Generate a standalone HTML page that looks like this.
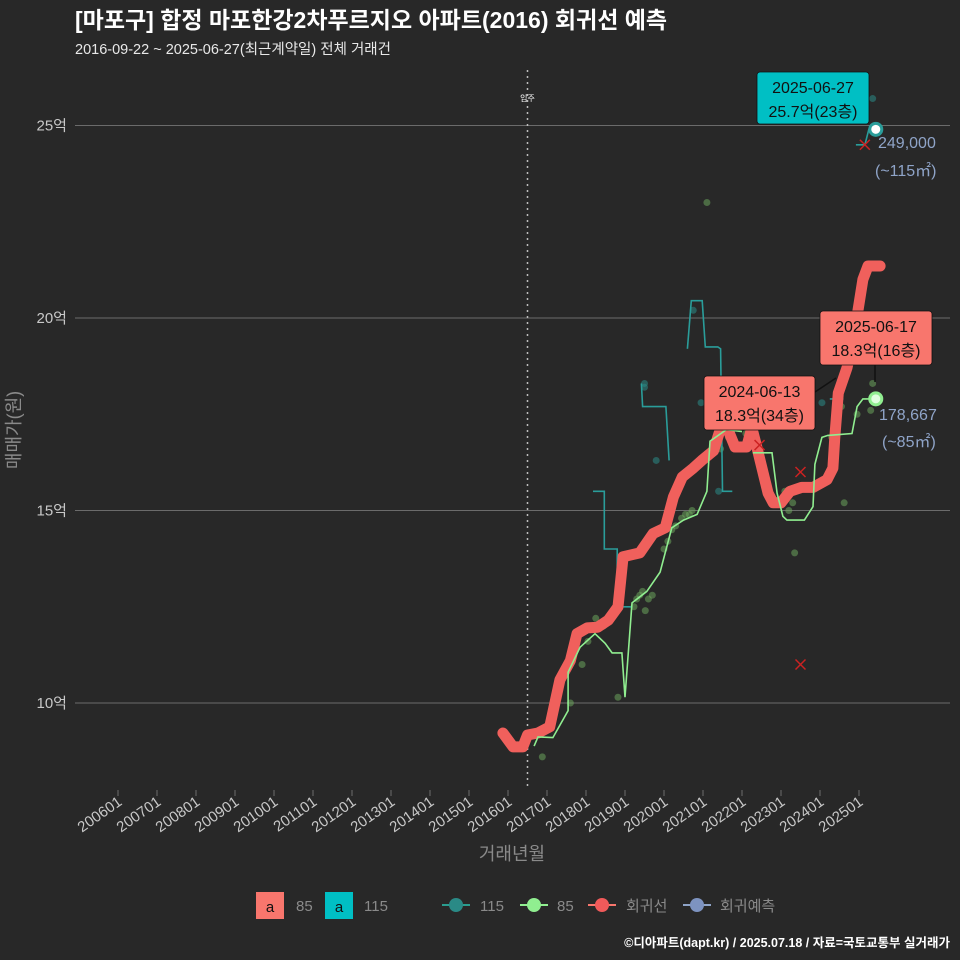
<!DOCTYPE html>
<html><head><meta charset="utf-8">
<style>
html,body{margin:0;padding:0;background:#282828;}
svg{display:block;font-family:"Liberation Sans","Noto Sans CJK KR",sans-serif;}
</style></head>
<body>
<svg id="chart" width="960" height="960" viewBox="0 0 960 960" xmlns="http://www.w3.org/2000/svg">
<rect width="960" height="960" fill="#282828"/>
<text x="75" y="28" fill="#ffffff" font-size="23" font-weight="bold">[마포구] 합정 마포한강2차푸르지오 아파트(2016) 회귀선 예측</text>
<text x="75" y="54" fill="#e8e8e8" font-size="14.5">2016-09-22 ~ 2025-06-27(최근계약일) 전체 거래건</text>
<g id="grid"></g>
<g id="marks"></g>
<g id="labels"></g>
<text transform="translate(20,430) rotate(-90)" text-anchor="middle" fill="#8a8a8a" font-size="18">매매가(원)</text>
<text x="512" y="860" text-anchor="middle" fill="#8a8a8a" font-size="18">거래년월</text>
<g>
<rect x="256" y="892" width="28" height="27" fill="#f8766d"/>
<text x="270" y="912" text-anchor="middle" fill="#111" font-size="15">a</text>
<text x="296" y="911" fill="#8a8a8a" font-size="15">85</text>
<rect x="325" y="892" width="28" height="27" fill="#00bfc4"/>
<text x="339" y="912" text-anchor="middle" fill="#111" font-size="15">a</text>
<text x="364" y="911" fill="#8a8a8a" font-size="15">115</text>
<line x1="442" y1="905" x2="470" y2="905" stroke="#2a9d8f" stroke-width="2"/>
<circle cx="456" cy="905" r="7" fill="#2a8a86"/>
<text x="480" y="911" fill="#8a8a8a" font-size="15">115</text>
<line x1="520" y1="905" x2="548" y2="905" stroke="#90ee90" stroke-width="2"/>
<circle cx="534" cy="905" r="7" fill="#90ee90"/>
<text x="557" y="911" fill="#8a8a8a" font-size="15">85</text>
<line x1="588" y1="905" x2="616" y2="905" stroke="#f8766d" stroke-width="2"/>
<circle cx="602" cy="905" r="7" fill="#f05a5a"/>
<text x="626" y="911" fill="#8a8a8a" font-size="15">회귀선</text>
<line x1="683" y1="905" x2="711" y2="905" stroke="#8fa4c8" stroke-width="2"/>
<circle cx="697" cy="905" r="7" fill="#7d93c0"/>
<text x="720" y="911" fill="#8a8a8a" font-size="15">회귀예측</text>
</g>
<text x="950" y="947" text-anchor="end" fill="#ffffff" font-size="12.5" font-weight="bold">©디아파트(dapt.kr) / 2025.07.18 / 자료=국토교통부 실거래가</text>
</svg>
<script>
const yTicks=[10,15,20,25];
const yTickLabels=["10억","15억","20억","25억"];
const xTickYears=[2006,2007,2008,2009,2010,2011,2012,2013,2014,2015,2016,2017,2018,2019,2020,2021,2022,2023,2024,2025];
const xTickLabels=["200601","200701","200801","200901","201001","201101","201201","201301","201401","201501","201601","201701","201801","201901","202001","202101","202201","202301","202401","202501"];
const moveInYear=2016.5;
const regT=[2015.87,2016.13,2016.38,2016.5,2016.77,2017.07,2017.33,2017.6,2017.77,2018.03,2018.3,2018.57,2018.82,2018.95,2019.38,2019.72,2020.03,2020.24,2020.47,2020.75,2020.97,2021.27,2021.44,2021.6,2021.82,2022.12,2022.25,2022.38,2022.67,2022.8,2023.0,2023.23,2023.53,2023.82,2024.18,2024.33,2024.38,2024.47,2024.69,2024.85,2025.1,2025.23,2025.54];
const regV=[9.22,8.86,8.86,9.17,9.22,9.38,10.6,11.1,11.8,11.95,11.97,12.15,12.5,13.8,13.9,14.4,14.55,15.35,15.87,16.1,16.3,16.55,17.1,17.2,16.65,16.65,17.15,16.65,15.45,15.2,15.2,15.5,15.6,15.6,15.8,16.1,16.9,18.05,18.7,19.4,21.0,21.35,21.35];
const g85T=[2016.67,2016.77,2017.15,2017.54,2017.54,2017.85,2018.23,2018.49,2018.67,2018.92,2019.0,2019.18,2019.56,2019.9,2020.2,2020.5,2020.85,2021.1,2021.18,2021.6,2022.0,null,2022.28,2022.77,2022.9,2023.05,2023.15,2023.6,2023.82,2023.87,2024.05,2024.2,2024.82,2024.95,2025.1,2025.4];
const g85V=[8.88,9.12,9.1,9.8,10.8,11.45,11.8,11.55,11.3,11.3,10.15,12.6,12.9,13.4,14.55,14.75,14.9,15.5,16.8,17.1,17.05,null,16.5,16.5,15.45,14.85,14.75,14.75,15.1,16.2,16.9,16.95,17.0,17.7,17.9,17.9];
const t115T=[2018.18,2018.47,2018.47,2018.8,2018.8,2019.15,null,2019.42,2019.45,2020.05,2020.13,null,2020.6,2020.7,2020.98,2021.06,2021.38,2021.45,2021.5,2021.75,null,2024.25,2024.6,null,2024.92,2025.15,2025.25,2025.43];
const t115V=[15.5,15.5,14.0,14.0,12.5,12.5,null,18.3,17.7,17.7,16.3,null,19.2,20.45,20.45,19.25,19.25,19.2,15.5,15.5,null,17.9,17.9,null,24.5,24.5,24.9,24.9];
const dot85T=[2016.88,2017.6,2017.9,2018.05,2018.15,2018.25,2018.45,2018.58,2018.82,2019.23,2019.3,2019.38,2019.45,2019.52,2019.6,2019.7,2020.0,2020.1,2020.2,2020.3,2020.45,2020.55,2020.65,2020.72,2021.45,2021.65,2021.8,2022.1,2022.3,2023.1,2023.2,2023.3,2023.35,2024.3,2024.4,2024.55,2024.62,2024.95,2025.3,2025.35,2021.1];
const dot85V=[8.6,10.0,11.0,11.6,12.0,12.2,12.0,12.2,10.15,12.5,12.7,12.8,12.9,12.4,12.7,12.8,14.0,14.2,14.5,14.6,14.8,14.9,14.9,15.0,16.6,16.9,17.2,17.0,16.8,15.5,15.0,15.2,13.9,16.9,17.6,17.7,15.2,17.5,17.6,18.3,23.0];
const dot115T=[2019.5,2019.5,2019.8,2020.75,2020.95,2021.4,2024.05,2025.35];
const dot115V=[18.2,18.3,16.3,20.2,17.8,15.5,17.8,25.7];
const xMarkT=[2022.45,2023.5,2023.5,2025.15];
const xMarkV=[16.7,16.0,11.0,24.5];

const X=t=>118+(t-2006)*39.0;
const Y=v=>703-(v-10)*38.5;
const NS="http://www.w3.org/2000/svg";
function mk(tag,parent,attrs){const e=document.createElementNS(NS,tag);for(const k in attrs)e.setAttribute(k,attrs[k]);parent.appendChild(e);return e;}
const grid=document.getElementById('grid'),marks=document.getElementById('marks'),labels=document.getElementById('labels');

yTicks.forEach((v,i)=>{
 const l=mk('line',grid,{x1:75,x2:950,y1:Y(v),y2:Y(v),stroke:'#6b6b6b','stroke-width':1});
 
 
 const t=mk('text',grid,{x:67,y:Y(v)+5,'text-anchor':'end',fill:'#c8c8c8','font-size':15});
 t.textContent=yTickLabels[i];
 
 
});
xTickYears.forEach((yr,i)=>{
 const x=X(yr);
 const tk=mk('line',grid,{x1:x,x2:x,y1:790,y2:796,stroke:'#6b6b6b','stroke-width':1});
 
 
 const t=mk('text',grid,{x:x+5,y:804,'text-anchor':'end',fill:'#c8c8c8','font-size':15,transform:`rotate(-35 ${x+5} 804)`});
 t.textContent=xTickLabels[i];
 
 
});
const mv=mk('line',grid,{x1:X(moveInYear),x2:X(moveInYear),y1:70,y2:790,stroke:'#bdbdbd','stroke-width':1.5,'stroke-dasharray':'2 4'});


const mvt=mk('text',grid,{x:X(moveInYear),y:101,'text-anchor':'middle',fill:'#ffffff','font-size':8});
mvt.textContent='입주';



function pathFrom(T,V){let d='',pen=false;for(let i=0;i<T.length;i++){if(T[i]===null){pen=false;continue;}d+=(pen?'L':'M')+X(T[i]).toFixed(1)+','+Y(V[i]).toFixed(1);pen=true;}return d;}

dot115T.forEach((t,i)=>{const c=mk('circle',marks,{cx:X(t),cy:Y(dot115V[i]),r:3.5,fill:'#2a8a86','fill-opacity':0.55});
 
 });
dot85T.forEach((t,i)=>{const c=mk('circle',marks,{cx:X(t),cy:Y(dot85V[i]),r:3.5,fill:'#6fae5f','fill-opacity':0.5});
 
 });
const tl=mk('path',marks,{d:pathFrom(t115T,t115V),fill:'none',stroke:'#2a9d9a','stroke-width':1.6});


const rl=mk('path',marks,{d:pathFrom(regT,regV),fill:'none',stroke:'#f0605c','stroke-width':11,'stroke-linejoin':'round','stroke-linecap':'round'});


const gl=mk('path',marks,{d:pathFrom(g85T,g85V),fill:'none',stroke:'#90ee90','stroke-width':1.6});


xMarkT.forEach((t,i)=>{const x=X(t),y=Y(xMarkV[i]);const p=mk('path',marks,{d:`M${x-5},${y-5}L${x+5},${y+5}M${x-5},${y+5}L${x+5},${y-5}`,stroke:'#cc2222','stroke-width':1.5});
 
 });

const e115=mk('circle',marks,{cx:X(2025.43),cy:Y(24.9),r:6,fill:'#ffffff',stroke:'#2a9d9a','stroke-width':3});


const e85=mk('circle',marks,{cx:X(2025.43),cy:Y(17.9),r:6,fill:'#e0ffe0',stroke:'#90ee90','stroke-width':3});



function box(x,y,w,h,fill,l1,l2,name){
 const g=mk('g',labels,{});
 
 
 mk('rect',g,{x:x,y:y,width:w,height:h,rx:3,fill:fill,stroke:'#111','stroke-width':0.8});
 const a=mk('text',g,{x:x+w/2,y:y+21,'text-anchor':'middle',fill:'#111','font-size':16});a.textContent=l1;
 const b=mk('text',g,{x:x+w/2,y:y+45,'text-anchor':'middle',fill:'#111','font-size':16});b.textContent=l2;
}
const ln1=mk('line',labels,{x1:875,y1:365,x2:875,y2:382,stroke:'#111','stroke-width':1.5});


const ln2=mk('line',labels,{x1:815,y1:392,x2:836,y2:378,stroke:'#111','stroke-width':1.5});


box(757,72,112,52,'#00bfc4','2025-06-27','25.7억(23층)','latest-label-115');
box(820,311,112,54,'#f8766d','2025-06-17','18.3억(16층)','latest-label-85');
box(704,376,111,54,'#f8766d','2024-06-13','18.3억(34층)','max-label-85');
function txt(x,y,s,name){const t=mk('text',labels,{x:x,y:y,fill:'#8fa4c8','font-size':16});t.textContent=s;
 
 }
txt(878,148,'249,000','forecast-value-115');
txt(875,176,'(~115㎡)','forecast-area-115');
txt(879,420,'178,667','forecast-value-85');
txt(882,447,'(~85㎡)','forecast-area-85');
</script>
</body></html>
